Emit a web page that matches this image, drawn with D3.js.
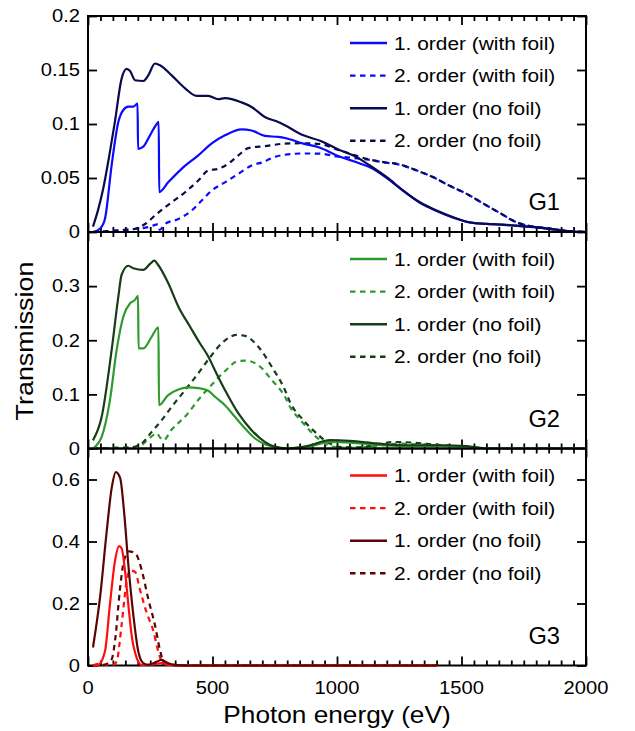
<!DOCTYPE html>
<html><head><meta charset="utf-8">
<script src="https://cdn.jsdelivr.net/npm/d3@7"></script>
<style>
html,body{margin:0;padding:0;background:#fff;}
svg{display:block;font-family:"Liberation Sans",Arial,Helvetica,sans-serif;}
</style>
</head><body>
<svg id="chart" width="635" height="731"></svg>
<script>
// ---------------- DATA ----------------
const energyTickValues = [0, 500, 1000, 1500, 2000];
const energyTickLabels = ["0", "500", "1000", "1500", "2000"];
const g1TickValues = [0, 0.05, 0.1, 0.15, 0.2];
const g1TickLabels = ["0", "0.05", "0.1", "0.15", "0.2"];
const g2TickValues = [0, 0.1, 0.2, 0.3];
const g2TickLabels = ["0", "0.1", "0.2", "0.3"];
const g3TickValues = [0, 0.2, 0.4, 0.6];
const g3TickLabels = ["0", "0.2", "0.4", "0.6"];
const panelNames = ["G1", "G2", "G3"];
const legendLabels = ["1. order (with foil)", "2. order (with foil)", "1. order (no foil)", "2. order (no foil)"];
const xTitle = "Photon energy (eV)";
const yTitle = "Transmission";

// [photon energy (eV), transmission]
const g1FirstFoil = [[20,0],[48,0.003],[68,0.012],[95,0.062],[122,0.102],[142,0.113],[162,0.116],[182,0.116],[199,0.119],[201,0.077],[222,0.079],[249,0.0895],[276,0.100],[284,0.102],[286,0.037],[322,0.046],[376,0.0585],[443,0.071],[497,0.082],[550,0.0895],[617,0.095],[657,0.094],[710,0.089],[764,0.088],[791,0.087],[865,0.0818],[932,0.078],[999,0.0709],[1092,0.0635],[1132,0.060],[1200,0.050],[1266,0.038],[1333,0.027],[1400,0.0195],[1467,0.0133],[1533,0.0088],[1600,0.0075],[1668,0.0066],[1735,0.0055],[1802,0.0042],[1870,0.0025],[1935,0.0006],[2000,0]];
const g1SecondFoil = [[20,0],[100,0.001],[150,0.002],[200,0.003],[250,0.005],[280,0.007],[285,0.006],[288,0.002],[309,0.0074],[363,0.012],[416,0.0198],[456,0.029],[497,0.0384],[550,0.046],[604,0.0539],[657,0.0616],[710,0.0653],[731,0.0678],[791,0.0715],[865,0.0727],[932,0.0725],[999,0.0700],[1066,0.0685],[1120,0.0672],[1186,0.0645],[1253,0.0622],[1320,0.057],[1387,0.0507],[1450,0.043],[1521,0.0353],[1590,0.026],[1655,0.0175],[1721,0.009],[1780,0.0052],[1840,0.0035],[1900,0.0015],[2000,0]];
const g1FirstNoFoil = [[20,0.005],[40,0.02],[61,0.040],[85,0.07],[108,0.102],[135,0.142],[155,0.151],[169,0.149],[189,0.1405],[222,0.1398],[242,0.145],[269,0.156],[289,0.1545],[336,0.145],[390,0.133],[436,0.126],[483,0.126],[523,0.123],[550,0.124],[617,0.120],[657,0.1158],[710,0.1065],[764,0.1018],[791,0.0988],[865,0.0895],[932,0.0845],[999,0.0771],[1079,0.0693],[1132,0.0616],[1200,0.0507],[1266,0.0384],[1333,0.0275],[1400,0.0198],[1467,0.0136],[1533,0.0089],[1600,0.0076],[1668,0.0068],[1735,0.0056],[1802,0.0043],[1870,0.0025],[1935,0.0006],[2000,0]];
const g1SecondNoFoil = [[20,0],[100,0.001],[150,0.002],[189,0.003],[229,0.0074],[276,0.0167],[336,0.0275],[390,0.0368],[443,0.0477],[483,0.057],[523,0.0585],[563,0.0632],[604,0.0709],[644,0.0777],[710,0.0795],[791,0.0818],[865,0.0822],[932,0.0815],[999,0.0765],[1066,0.0715],[1092,0.0695],[1186,0.0647],[1253,0.0625],[1320,0.057],[1387,0.0507],[1450,0.043],[1521,0.0353],[1590,0.026],[1655,0.0175],[1721,0.009],[1780,0.0052],[1840,0.0035],[1900,0.0015],[2000,0]];

const g2FirstFoil = [[20,0],[28,0.003],[55,0.0215],[88,0.089],[115,0.182],[142,0.244],[169,0.2685],[189,0.2746],[201,0.282],[203,0.185],[222,0.185],[256,0.2067],[283,0.224],[285,0.080],[322,0.0987],[363,0.109],[403,0.113],[443,0.1117],[483,0.1067],[510,0.0956],[550,0.080],[590,0.0585],[631,0.037],[671,0.0185],[710,0.008],[751,0.003],[791,0.0005],[850,0.001],[900,0.005],[972,0.012],[1052,0.011],[1159,0.007],[1253,0.005],[1414,0.005],[1521,0.003],[1614,0],[2000,0]];
const g2SecondFoil = [[20,0],[100,0.001],[200,0.003],[249,0.02],[276,0.028],[290,0.02],[303,0.0154],[336,0.035],[396,0.062],[443,0.09],[477,0.108],[497,0.118],[550,0.143],[597,0.1605],[631,0.1625],[684,0.154],[738,0.1265],[791,0.0956],[811,0.077],[858,0.05],[932,0.0154],[985,0.003],[1050,0.001],[1150,0.004],[1250,0.009],[1347,0.007],[1480,0.003],[1614,0],[2000,0]];
const g2FirstNoFoil = [[20,0.015],[55,0.0585],[95,0.182],[122,0.281],[135,0.321],[162,0.3376],[182,0.333],[222,0.330],[249,0.341],[266,0.347],[282,0.339],[322,0.3056],[363,0.262],[410,0.225],[450,0.194],[483,0.170],[503,0.151],[550,0.108],[604,0.0648],[657,0.0339],[710,0.0122],[751,0.003],[800,0],[850,0.002],[892,0.006],[972,0.0154],[1052,0.014],[1159,0.0093],[1253,0.006],[1414,0.006],[1521,0.0043],[1614,0],[2000,0]];
const g2SecondNoFoil = [[20,0],[100,0.001],[170,0.002],[215,0.009],[256,0.0307],[296,0.0524],[336,0.077],[390,0.108],[443,0.139],[490,0.1685],[537,0.1944],[597,0.2098],[631,0.208],[684,0.188],[738,0.151],[791,0.108],[811,0.086],[865,0.0524],[918,0.0278],[972,0.009],[1012,0.003],[1080,0.002],[1150,0.006],[1230,0.012],[1300,0.011],[1400,0.007],[1480,0.0043],[1614,0],[2000,0]];

const g3FirstFoil = [[20,0],[41,0.002],[68,0.045],[88,0.196],[108,0.335],[125,0.385],[135,0.378],[149,0.303],[162,0.196],[175,0.099],[196,0.024],[215,0.002],[260,0.003],[296,0.008],[330,0.002],[400,0],[1400,0]];
const g3SecondFoil = [[20,0],[40,0.005],[60,0.002],[100,0.002],[115,0.013],[135,0.131],[155,0.271],[169,0.307],[189,0.302],[209,0.244],[236,0.169],[262,0.113],[280,0.052],[296,0.013],[316,0.002],[400,0],[1400,0]];
const g3FirstNoFoil = [[20,0.058],[48,0.217],[75,0.432],[95,0.572],[112,0.624],[129,0.605],[146,0.486],[162,0.325],[182,0.1635],[202,0.045],[222,0.0077],[242,0.002],[270,0.01],[296,0.018],[320,0.008],[350,0.002],[400,0],[1400,0]];
const g3SecondNoFoil = [[20,0],[60,0.001],[95,0.02],[110,0.09],[128,0.244],[145,0.34],[165,0.368],[190,0.362],[215,0.31],[242,0.215],[269,0.13],[289,0.05],[303,0.013],[322,0.002],[400,0],[1400,0]];

// ---------------- LAYOUT ----------------
const svg = d3.select("#chart");
const defs = svg.append("defs");
const x = d3.scaleLinear().domain([0, 2000]).range([88, 586]);

const panels = [
  {name: panelNames[0], top: 16, bottom: 232, max: 0.2, ticks: g1TickValues, labels: g1TickLabels,
   colors: ["#0a0aff", "#0a0aff", "#0a0a4e", "#0a0a4e"],
   series: [g1FirstFoil, g1SecondFoil, g1FirstNoFoil, g1SecondNoFoil]},
  {name: panelNames[1], top: 232, bottom: 448.5, max: 0.4, ticks: g2TickValues, labels: g2TickLabels,
   colors: ["#2e9a2e", "#2e9a2e", "#173d17", "#173d17"],
   series: [g2FirstFoil, g2SecondFoil, g2FirstNoFoil, g2SecondNoFoil]},
  {name: panelNames[2], top: 448.5, bottom: 665.5, max: 0.7, ticks: g3TickValues, labels: g3TickLabels,
   colors: ["#ff0d0d", "#ff0d0d", "#5a0505", "#5a0505"],
   series: [g3FirstFoil, g3SecondFoil, g3FirstNoFoil, g3SecondNoFoil]}
];
const dashed = [false, true, false, true];
const drawOrder = [1, 3, 0, 2];
const DASH = "5.5,4.5";
const LW = 2.2;

function stretchedText(parent, tx, ty, str, size, sx, anchor, rot) {
  const g = parent.append("g")
    .attr("transform", `translate(${tx},${ty})` + (rot ? ` rotate(${rot})` : "") + ` scale(${sx},1)`);
  g.append("text").attr("text-anchor", anchor).attr("font-size", size).attr("fill", "#000").text(str);
}

const minorE = d3.range(0, 2001, 50).filter(v => v % 500 !== 0);

function styleAxis(a) {
  a.select(".domain").remove();
  a.selectAll(".tick line").attr("stroke", "#000").attr("stroke-width", 1.8);
}

panels.forEach((p, i) => {
  const y = d3.scaleLinear().domain([0, p.max]).range([p.bottom, p.top]);
  const g = svg.append("g");

  const clipId = "clip" + i;
  defs.append("clipPath").attr("id", clipId).append("rect")
    .attr("x", x(0)).attr("y", p.top)
    .attr("width", x(2000) - x(0)).attr("height", p.bottom - p.top + 2);

  g.append("g").attr("transform", `translate(0,${p.bottom})`)
    .call(d3.axisBottom(x).tickValues(minorE).tickSize(-5).tickFormat("")).call(styleAxis);
  g.append("g").attr("transform", `translate(0,${p.bottom})`)
    .call(d3.axisBottom(x).tickValues(energyTickValues).tickSize(-9).tickFormat("")).call(styleAxis);
  g.append("g").attr("transform", `translate(0,${p.top})`)
    .call(d3.axisTop(x).tickValues(minorE).tickSize(-5).tickFormat("")).call(styleAxis);
  g.append("g").attr("transform", `translate(0,${p.top})`)
    .call(d3.axisTop(x).tickValues(energyTickValues).tickSize(-9).tickFormat("")).call(styleAxis);
  g.append("g").attr("transform", `translate(${x(0)},0)`)
    .call(d3.axisLeft(y).tickValues(p.ticks).tickSize(-9).tickFormat("")).call(styleAxis);
  g.append("g").attr("transform", `translate(${x(2000)},0)`)
    .call(d3.axisRight(y).tickValues(p.ticks).tickSize(-9).tickFormat("")).call(styleAxis);

  g.append("rect").attr("x", x(0)).attr("y", p.top)
    .attr("width", x(2000) - x(0)).attr("height", p.bottom - p.top)
    .attr("fill", "none").attr("stroke", "#000").attr("stroke-width", 2);

  p.ticks.forEach((v, k) => {
    stretchedText(g, 80, y(v) + 6.3, p.labels[k], 18, 1.12, "end");
  });

  const line = d3.line().x(d => x(d[0])).y(d => y(d[1])).curve(d3.curveMonotoneX);
  drawOrder.forEach(k => {
    g.append("path").datum(p.series[k]).attr("d", line)
      .attr("fill", "none").attr("stroke", p.colors[k]).attr("stroke-width", LW)
      .attr("stroke-linejoin", "round")
      .attr("stroke-dasharray", dashed[k] ? DASH : null)
      .attr("clip-path", `url(#${clipId})`);
  });

  legendLabels.forEach((lab, k) => {
    const ry = p.top + 27 + k * 32.6;
    g.append("line").attr("x1", 350).attr("x2", 387).attr("y1", ry).attr("y2", ry)
      .attr("stroke", p.colors[k]).attr("stroke-width", 2.4)
      .attr("stroke-dasharray", dashed[k] ? DASH : null);
    stretchedText(g, 394, ry + 6.5, lab, 18.5, 1.13, "start");
  });

  stretchedText(g, 560, p.bottom - 22, p.name, 23, 1.03, "end");
});

energyTickValues.forEach((v, k) => {
  stretchedText(svg, x(v), 693.5, energyTickLabels[k], 18, 1.12, "middle");
});

stretchedText(svg, (x(0) + x(2000)) / 2, 723, xTitle, 23, 1.14, "middle");
stretchedText(svg, 33, 341, yTitle, 24, 1.12, "middle", -90);
</script>
</body></html>
